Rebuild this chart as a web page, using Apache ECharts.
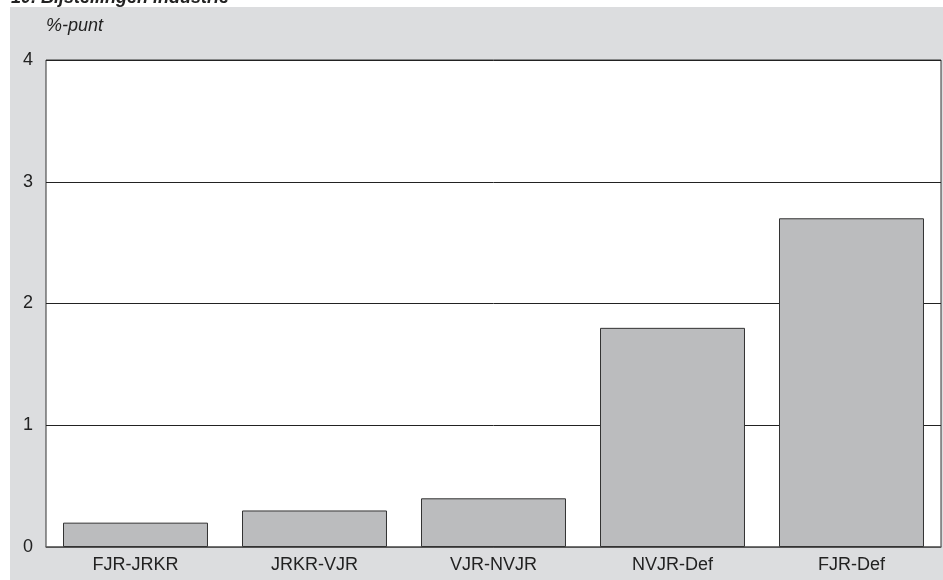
<!DOCTYPE html>
<html>
<head>
<meta charset="utf-8">
<script src="https://cdn.jsdelivr.net/npm/echarts@6/dist/echarts.min.js"></script>
<style>html,body{margin:0;padding:0;background:#fff}#c{width:943px;height:580px}</style>
</head>
<body>
<div id="c"></div>
<script>
var categories = ['FJR-JRKR', 'JRKR-VJR', 'VJR-NVJR', 'NVJR-Def', 'FJR-Def'];
var values = [0.2, 0.3, 0.4, 1.8, 2.7];
var yTicks = [0, 1, 2, 3, 4];
var chart = echarts.init(document.getElementById('c'), null, {renderer: 'canvas'});
chart.setOption({
  animation: false,
  backgroundColor: '#ffffff',
  graphic: [
    {type: 'rect', z: -10, shape: {x: 10, y: 7, width: 940, height: 580}, style: {fill: '#dcdddf'}, silent: true},
    {type: 'text', z: 10, x: 11, y: 7, style: {text: '10. Bijstellingen industrie', font: 'italic bold 18px "Liberation Sans", Arial, sans-serif', fill: '#222', verticalAlign: 'bottom'}},
    {type: 'text', x: 46, y: 17, style: {text: '%-punt', font: 'italic 18px "Liberation Sans", Arial, sans-serif', fill: '#222', verticalAlign: 'top'}}
  ],
  grid: {left: 46, right: 2, top: 60, bottom: 33, show: true, backgroundColor: '#ffffff', borderColor: '#333', borderWidth: 1},
  xAxis: {
    type: 'category', data: categories,
    axisLine: {show: true, lineStyle: {color: '#666', width: 1.5}},
    axisTick: {show: false},
    axisLabel: {color: '#222', fontSize: 18, fontFamily: 'Liberation Sans, Arial, sans-serif', margin: 9}
  },
  yAxis: {
    type: 'value', min: yTicks[0], max: yTicks[yTicks.length - 1], interval: 1,
    axisLine: {show: false}, axisTick: {show: false},
    splitLine: {show: true, lineStyle: {color: '#222', width: 1}},
    axisLabel: {color: '#222', fontSize: 18, fontFamily: 'Liberation Sans, Arial, sans-serif', margin: 13}
  },
  series: [{
    type: 'bar', data: values, barWidth: '81%',
    itemStyle: {color: '#bbbcbe', borderColor: '#333', borderWidth: 1}
  }]
});
</script>
</body>
</html>
